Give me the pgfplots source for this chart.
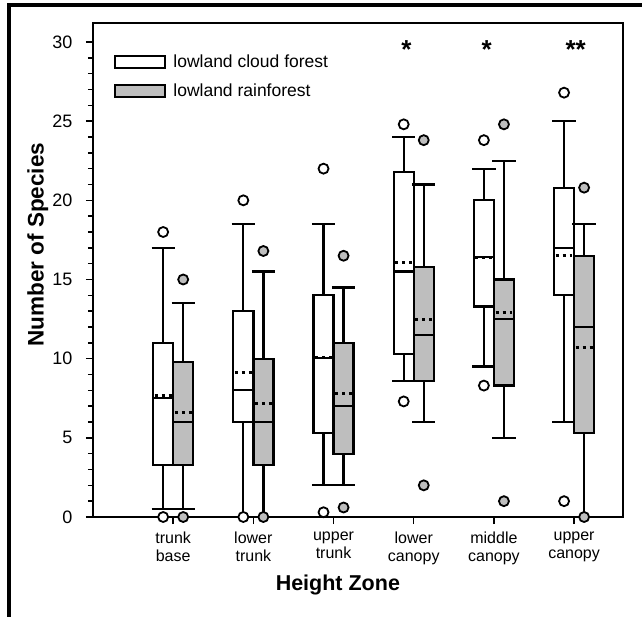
\documentclass[border=0pt]{standalone}
\usepackage{pgfplots}
\pgfplotsset{compat=1.18}
\usepgfplotslibrary{statistics}
\usepackage{fontspec}
\setmainfont{Liberation Sans}
\definecolor{boxgray}{RGB}{190,190,190}
\pgfplotsset{
  wbox/.style={black, line width=2.3pt, mark=*, mark size=5pt,
    mark options={fill=white, draw=black, line width=1.8pt, solid},
    boxplot/every box/.style={fill=white},
    boxplot/every median/.style={line width=2.3pt}},
  gbox/.style={black, line width=2.3pt, mark=*, mark size=5pt,
    mark options={fill=boxgray, draw=black, line width=1.8pt, solid},
    boxplot/every box/.style={fill=boxgray},
    boxplot/every median/.style={line width=2.3pt}},
}
\begin{document}
\begin{tikzpicture}
\begin{axis}[
  at={(0pt,0pt)}, anchor=south west,
  scale only axis, width=530pt, height=494pt,
  xmin=0, xmax=6.61, ymin=0, ymax=31.2,
  axis line style={line width=2.5pt},
  clip=false,
  xtick={1,2,3,4,5,6},
  xticklabels={trunk\\base, lower\\trunk, upper\\trunk, lower\\canopy, middle\\canopy, upper\\canopy},
  xticklabel style={align=center, font=\fontsize{16}{18}\selectfont, yshift=-4pt},
  ytick={0,5,...,30},
  minor y tick num=4,
  tick align=outside,
  xtick pos=bottom, ytick pos=left,
  major tick length=7pt, minor tick length=5pt,
  tick style={line width=1.4pt, black},
  yticklabel style={font=\fontsize{18}{20}\selectfont, xshift=-10pt},
  /pgf/number format/assume math mode=true,
  xlabel={\textbf{Height Zone}},
  ylabel={\textbf{Number of Species}},
  xlabel style={font=\fontsize{21.5}{24}\selectfont, at={(axis description cs:0.462,-0.138)}, anchor=center},
  ylabel style={font=\fontsize{22.5}{24}\selectfont, at={(axis description cs:-0.104,0.551)}, anchor=center},
  boxplot/draw direction=y,
  boxplot/box extend=0.25,
  boxplot/whisker extend=0.29,
  boxplot/draw/average/.code={\draw[black, line width=3pt, dash pattern=on 3pt off 4pt] (boxplot box cs:\pgfplotsboxplotvalue{average},0.08) -- (boxplot box cs:\pgfplotsboxplotvalue{average},0.92);},
  legend style={at={(axis description cs:0.04,0.94)}, anchor=north west, draw=none, fill=none, font=\fontsize{17.5}{20}\selectfont, row sep=11pt, inner sep=0pt},
  legend cell align=left,
]
\addlegendimage{legend image code/.code={\draw[black, line width=2pt, fill=white] (0pt,-6pt) rectangle (50pt,6pt); \path[draw=none] (0pt,0pt) -- (56pt,0pt);}}
\addlegendentry{lowland cloud forest}
\addlegendimage{legend image code/.code={\draw[black, line width=2pt, fill=boxgray] (0pt,-6pt) rectangle (50pt,6pt); \path[draw=none] (0pt,0pt) -- (56pt,0pt);}}
\addlegendentry{lowland rainforest}

% trunk base
\addplot[wbox, boxplot prepared={draw position=0.875, lower whisker=0.5, lower quartile=3.3, median=7.5, upper quartile=11.0, upper whisker=17.0, average=7.7}] coordinates {(0,18) (0,0)};
\addplot[gbox, boxplot prepared={draw position=1.125, lower whisker=0.5, lower quartile=3.3, median=6.0, upper quartile=9.8, upper whisker=13.5, average=6.6}] coordinates {(0,15) (0,0)};
% lower trunk
\addplot[wbox, boxplot prepared={draw position=1.875, lower whisker=0, lower quartile=6.0, median=8.0, upper quartile=13.0, upper whisker=18.5, average=9.1}] coordinates {(0,20) (0,0)};
\addplot[gbox, boxplot prepared={draw position=2.125, lower whisker=0, lower quartile=3.3, median=6.0, upper quartile=10.0, upper whisker=15.5, average=7.15}] coordinates {(0,16.8) (0,0)};
% upper trunk
\addplot[wbox, boxplot prepared={draw position=2.875, lower whisker=2.0, lower quartile=5.3, median=10.05, upper quartile=14.0, upper whisker=18.5, average=10.1}] coordinates {(0,22) (0,0.3)};
\addplot[gbox, boxplot prepared={draw position=3.125, lower whisker=2.0, lower quartile=4.0, median=7.0, upper quartile=11.0, upper whisker=14.5, average=7.8}] coordinates {(0,16.5) (0,0.6)};
% lower canopy
\addplot[wbox, boxplot prepared={draw position=3.875, lower whisker=8.6, lower quartile=10.3, median=15.5, upper quartile=21.8, upper whisker=24.0, average=16.05}] coordinates {(0,24.8) (0,7.3)};
\addplot[gbox, boxplot prepared={draw position=4.125, lower whisker=6.0, lower quartile=8.6, median=11.5, upper quartile=15.8, upper whisker=21.0, average=12.45}] coordinates {(0,23.8) (0,2.0)};
% middle canopy
\addplot[wbox, boxplot prepared={draw position=4.875, lower whisker=9.5, lower quartile=13.3, median=16.4, upper quartile=20.0, upper whisker=22.0, average=16.4}] coordinates {(0,23.8) (0,8.3)};
\addplot[gbox, boxplot prepared={draw position=5.125, lower whisker=5.0, lower quartile=8.3, median=12.5, upper quartile=15.0, upper whisker=22.5, average=12.9}] coordinates {(0,24.8) (0,1.0)};
% upper canopy
\addplot[wbox, boxplot prepared={draw position=5.875, lower whisker=6.0, lower quartile=14.0, median=17.0, upper quartile=20.8, upper whisker=25.0, average=16.5}] coordinates {(0,26.8) (0,1.0)};
\addplot[gbox, boxplot prepared={draw position=6.125, lower whisker=0, lower quartile=5.3, median=12.0, upper quartile=16.5, upper whisker=18.5, average=10.7}] coordinates {(0,20.8) (0,0)};

\node[font=\bfseries\fontsize{26}{26}\selectfont] at (axis cs:3.91,29.55) {*};
\node[font=\bfseries\fontsize{26}{26}\selectfont] at (axis cs:4.91,29.55) {*};
\node[font=\bfseries\fontsize{26}{26}\selectfont, inner sep=0pt] at (axis cs:6.02,29.55) {**};
\end{axis}
\draw[line width=3.5pt] (-84pt,-120pt) -- (-84pt,512pt) -- (570pt,512pt);
\pgfresetboundingbox
\useasboundingbox (-93pt,-99pt) rectangle (549pt,517pt);
\end{tikzpicture}
\end{document}
